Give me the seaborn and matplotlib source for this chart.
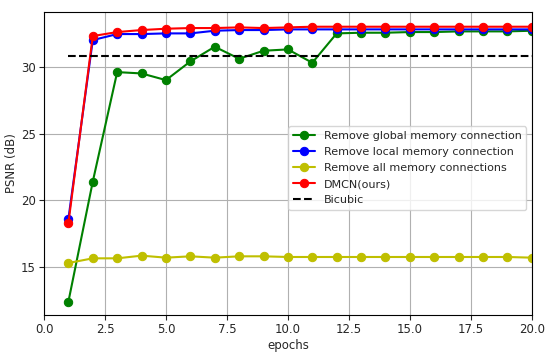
import matplotlib
matplotlib.use("Agg")
import matplotlib.pyplot as plt
import seaborn as sns
import pandas as pd

epochs = list(range(1, 21))
global_removed = [12.4, 21.4, 29.6, 29.5, 29.0, 30.4, 31.5, 30.6, 31.2, 31.3, 30.3, 32.5, 32.55, 32.55, 32.6, 32.6, 32.65, 32.65, 32.65, 32.7]
local_removed = [18.6, 32.0, 32.45, 32.45, 32.5, 32.5, 32.7, 32.75, 32.75, 32.8, 32.8, 32.8, 32.8, 32.8, 32.8, 32.8, 32.8, 32.8, 32.8, 32.8]
all_removed = [15.3, 15.65, 15.65, 15.85, 15.7, 15.8, 15.7, 15.8, 15.8, 15.75, 15.75, 15.75, 15.75, 15.75, 15.75, 15.75, 15.75, 15.75, 15.75, 15.7]
dmcn = [18.3, 32.3, 32.6, 32.75, 32.85, 32.9, 32.9, 32.95, 32.9, 32.95, 33.0, 33.0, 33.0, 33.0, 33.0, 33.0, 33.0, 33.0, 33.0, 33.0]
bicubic = 30.8

names = ["Remove global memory connection", "Remove local memory connection",
         "Remove all memory connections", "DMCN(ours)"]
colors = ["g", "b", "y", "r"]

sns.set_style("ticks")
fig, ax = plt.subplots(figsize=(5.5, 3.54), dpi=100)
for name, vals, c in zip(names, [global_removed, local_removed, all_removed, dmcn], colors):
    df = pd.DataFrame({"epochs": epochs, "psnr": vals})
    sns.lineplot(data=df, x="epochs", y="psnr", ax=ax, color=c, marker="o",
                 markersize=6, markeredgecolor=c, linewidth=1.5, label=name)
ax.plot([epochs[0], epochs[-1]], [bicubic, bicubic], "k--", linewidth=1.5, label="Bicubic")

ax.set_xlim(0, 20)
ax.set_ylim(11.4, 34.1)
ax.set_xlabel("epochs", fontsize=8.5, labelpad=2)
ax.set_ylabel("PSNR (dB)", fontsize=8.5, labelpad=2)
ax.tick_params(labelsize=8.5, pad=2.5)
ax.grid(True, color="#b0b0b0", linewidth=0.8)
ax.legend(loc="center right", fontsize=8, bbox_to_anchor=(1.0, 0.485), handlelength=2,
          borderpad=0.4, labelspacing=0.55)
for s in ax.spines.values():
    s.set_color("black")
    s.set_linewidth(0.8)
fig.subplots_adjust(left=0.08, right=0.967, top=0.966, bottom=0.11)
fig.savefig("out.png", dpi=100)
